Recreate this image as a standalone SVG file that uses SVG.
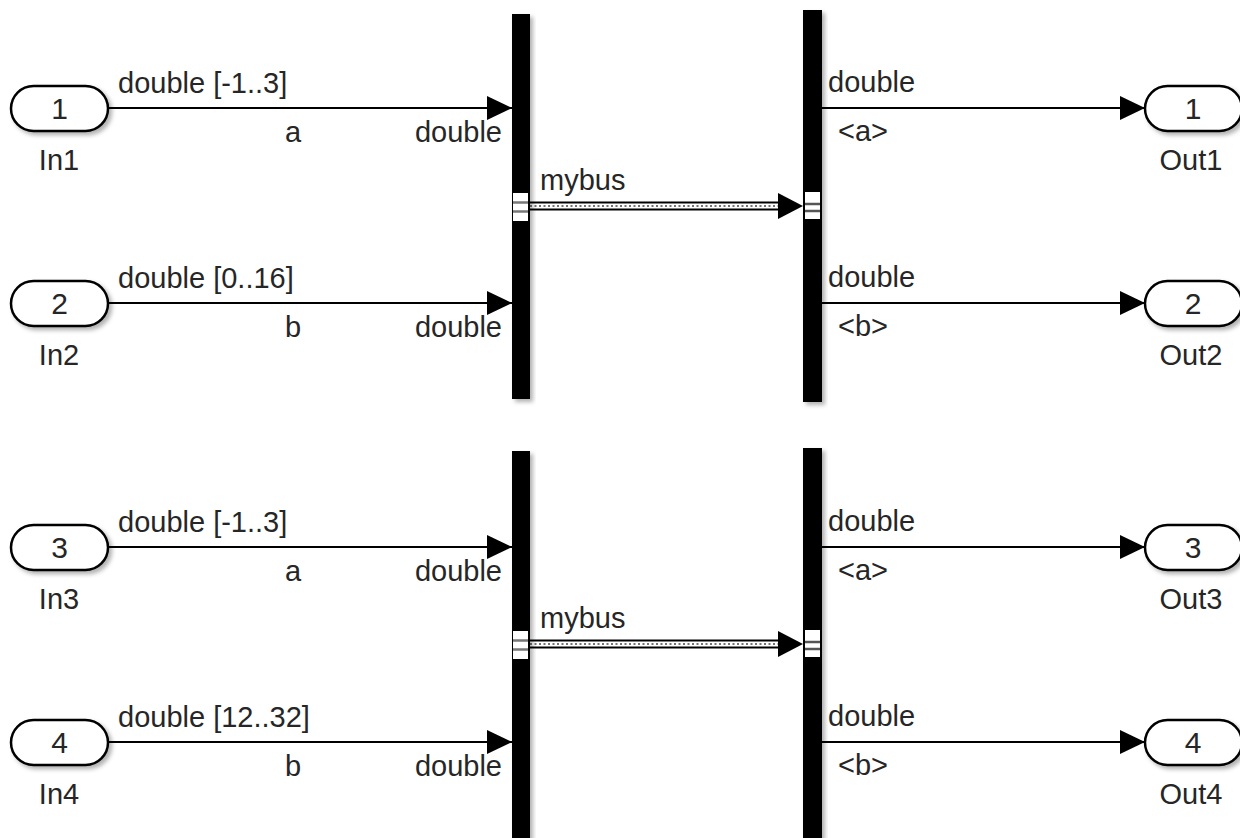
<svg xmlns="http://www.w3.org/2000/svg" width="1240" height="838" viewBox="0 0 1240 838">
<defs>
<filter id="sh" x="-20%" y="-20%" width="150%" height="150%">
<feDropShadow dx="3" dy="3" stdDeviation="2" flood-color="#000" flood-opacity="0.3"/>
</filter>
<marker id="ar" viewBox="0 0 25 24" refX="25" refY="12" markerWidth="25" markerHeight="24" markerUnits="userSpaceOnUse" orient="auto">
<path d="M0,0 L25,12 L0,24 Z" fill="#000"/>
</marker>
</defs>
<style>
text{font-family:"Liberation Sans",Arial,sans-serif;font-size:29px;fill:#262626}
.num{font-size:30px}
.port{fill:#fff;stroke:#000;stroke-width:2.5}
.bar{fill:#000}
.sig{stroke:#000;stroke-width:2;fill:none}
.mid{text-anchor:middle}
.end{text-anchor:end}
</style>
<rect width="1240" height="838" fill="#fff"/>
<g id="connectors">
<line class="sig" x1="108" y1="108" x2="512" y2="108" marker-end="url(#ar)"/>
<line class="sig" x1="108" y1="303" x2="512" y2="303" marker-end="url(#ar)"/>
<line class="sig" x1="108" y1="547" x2="512" y2="547" marker-end="url(#ar)"/>
<line class="sig" x1="108" y1="742" x2="512" y2="742" marker-end="url(#ar)"/>
<line class="sig" x1="822" y1="108" x2="1145" y2="108" marker-end="url(#ar)"/>
<line class="sig" x1="822" y1="303" x2="1145" y2="303" marker-end="url(#ar)"/>
<line class="sig" x1="822" y1="547" x2="1145" y2="547" marker-end="url(#ar)"/>
<line class="sig" x1="822" y1="742" x2="1145" y2="742" marker-end="url(#ar)"/>
<g id="bus1">
<line x1="528" y1="206" x2="780" y2="206" stroke="#000" stroke-width="9"/>
<line x1="528" y1="206" x2="780" y2="206" stroke="#fff" stroke-width="5"/>
<line x1="530" y1="206" x2="780" y2="206" stroke="#444" stroke-width="1.5" stroke-dasharray="2,2.5"/>
<path d="M778,193 L803,206 L778,219 Z" fill="#000"/>
</g>
<g id="bus2">
<line x1="528" y1="644" x2="780" y2="644" stroke="#000" stroke-width="9"/>
<line x1="528" y1="644" x2="780" y2="644" stroke="#fff" stroke-width="5"/>
<line x1="530" y1="644" x2="780" y2="644" stroke="#444" stroke-width="1.5" stroke-dasharray="2,2.5"/>
<path d="M778,631 L803,644 L778,657 Z" fill="#000"/>
</g>
<text x="118" y="93">double [-1..3]</text>
<text x="293" y="142" class="mid">a</text>
<text x="502" y="142" class="end">double</text>
<text x="118" y="288">double [0..16]</text>
<text x="293" y="337" class="mid">b</text>
<text x="502" y="337" class="end">double</text>
<text x="118" y="532">double [-1..3]</text>
<text x="293" y="581" class="mid">a</text>
<text x="502" y="581" class="end">double</text>
<text x="118" y="727">double [12..32]</text>
<text x="293" y="776" class="mid">b</text>
<text x="502" y="776" class="end">double</text>
<text x="540" y="190">mybus</text>
<text x="540" y="628">mybus</text>
<text x="828" y="92">double</text>
<text x="838" y="141">&lt;a&gt;</text>
<text x="828" y="287">double</text>
<text x="838" y="336">&lt;b&gt;</text>
<text x="828" y="531">double</text>
<text x="838" y="580">&lt;a&gt;</text>
<text x="828" y="726">double</text>
<text x="838" y="775">&lt;b&gt;</text>
</g>
<g id="BusCreator1">
<rect class="bar" x="512" y="14" width="18" height="385" filter="url(#sh)"/>
<rect x="513" y="193" width="15" height="28" fill="#fff"/>
<line x1="513" y1="202.5" x2="528" y2="202.5" stroke="#777" stroke-width="2.5"/>
<line x1="513" y1="211.5" x2="528" y2="211.5" stroke="#777" stroke-width="2.5"/>
</g>
<g id="BusSelector1">
<rect class="bar" x="803" y="10" width="19" height="392" filter="url(#sh)"/>
<rect x="805" y="192" width="15" height="27" fill="#fff"/>
<line x1="805" y1="204" x2="820" y2="204" stroke="#555" stroke-width="2.5"/>
<line x1="805" y1="211" x2="820" y2="211" stroke="#555" stroke-width="2.5"/>
</g>
<g id="BusCreator2">
<rect class="bar" x="512" y="451" width="18" height="395" filter="url(#sh)"/>
<rect x="513" y="631" width="15" height="28" fill="#fff"/>
<line x1="513" y1="640.5" x2="528" y2="640.5" stroke="#777" stroke-width="2.5"/>
<line x1="513" y1="649.5" x2="528" y2="649.5" stroke="#777" stroke-width="2.5"/>
</g>
<g id="BusSelector2">
<rect class="bar" x="803" y="448" width="19" height="398" filter="url(#sh)"/>
<rect x="805" y="630" width="15" height="27" fill="#fff"/>
<line x1="805" y1="642" x2="820" y2="642" stroke="#555" stroke-width="2.5"/>
<line x1="805" y1="649" x2="820" y2="649" stroke="#555" stroke-width="2.5"/>
</g>
<g id="In1"><rect class="port" x="11" y="86" width="97" height="45" rx="22.5" filter="url(#sh)"/><text x="59.5" y="119" class="mid num">1</text><text x="59" y="170" class="mid">In1</text></g>
<g id="In2"><rect class="port" x="11" y="281" width="97" height="45" rx="22.5" filter="url(#sh)"/><text x="59.5" y="314" class="mid num">2</text><text x="59" y="365" class="mid">In2</text></g>
<g id="In3"><rect class="port" x="11" y="525" width="97" height="45" rx="22.5" filter="url(#sh)"/><text x="59.5" y="558" class="mid num">3</text><text x="59" y="609" class="mid">In3</text></g>
<g id="In4"><rect class="port" x="11" y="720" width="97" height="45" rx="22.5" filter="url(#sh)"/><text x="59.5" y="753" class="mid num">4</text><text x="59" y="804" class="mid">In4</text></g>
<g id="Out1"><rect class="port" x="1145" y="86" width="97" height="45" rx="22.5" filter="url(#sh)"/><text x="1193" y="119" class="mid num">1</text><text x="1191" y="170" class="mid">Out1</text></g>
<g id="Out2"><rect class="port" x="1145" y="281" width="97" height="45" rx="22.5" filter="url(#sh)"/><text x="1193" y="314" class="mid num">2</text><text x="1191" y="365" class="mid">Out2</text></g>
<g id="Out3"><rect class="port" x="1145" y="525" width="97" height="45" rx="22.5" filter="url(#sh)"/><text x="1193" y="558" class="mid num">3</text><text x="1191" y="609" class="mid">Out3</text></g>
<g id="Out4"><rect class="port" x="1145" y="720" width="97" height="45" rx="22.5" filter="url(#sh)"/><text x="1193" y="753" class="mid num">4</text><text x="1191" y="804" class="mid">Out4</text></g>
</svg>
